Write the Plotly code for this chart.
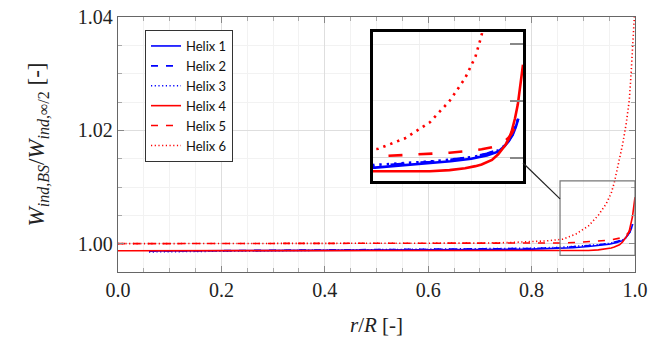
import plotly.graph_objects as go

# ---------------- data ----------------
r_blue = [0.06, 0.1, 0.2, 0.3, 0.4, 0.5, 0.6, 0.7, 0.8, 0.857, 0.88, 0.91, 0.93,
          0.95, 0.965, 0.976, 0.982, 0.986, 0.99, 0.993, 0.9955]
helix1 = [0.99870, 0.99871, 0.99874, 0.99877, 0.99880, 0.99884, 0.99889, 0.99895,
          0.99903, 0.99912, 0.99928, 0.99950, 0.99968, 0.99990, 1.00020, 1.00053,
          1.00100, 1.00142, 1.00200, 1.00270, 1.00345]
helix2 = [0.99868, 0.99870, 0.99874, 0.99878, 0.99883, 0.99889, 0.99896, 0.99904,
          0.99915, 0.99928, 0.99942, 0.99962, 0.99980, 1.00004, 1.00034, 1.00068,
          1.00110, 1.00152, 1.00212, 1.00280, 1.00350]
helix3 = [0.99855, 0.99858, 0.99866, 0.99876, 0.99884, 0.99892, 0.99900, 0.99908,
          0.99920, 0.99936, 0.99948, 0.99966, 0.99982, 1.00004, 1.00032, 1.00064,
          1.00105, 1.00148, 1.00208, 1.00275, 1.00348]

r_red = [0.0, 0.1, 0.2, 0.3, 0.4, 0.5, 0.6, 0.7, 0.76, 0.8, 0.83, 0.86, 0.886, 0.91,
         0.929, 0.944, 0.954, 0.96, 0.97, 0.976, 0.983, 0.986, 0.989, 0.9923, 0.995,
         0.9971, 0.9987, 1.0]
helix4 = [0.99876, 0.99876, 0.99876, 0.99876, 0.99877, 0.99877, 0.99877, 0.99877,
          0.99877, 0.99877, 0.99877, 0.99877, 0.99878, 0.99880, 0.99890, 0.99907,
          0.99925, 0.99940, 0.99980, 1.00030, 1.00112, 1.00160, 1.00230, 1.00347,
          1.00470, 1.00620, 1.00740, 1.00820]
helix5 = [1.00000, 1.00000, 1.00000, 1.00000, 1.00000, 1.00000, 1.00000, 1.00000,
          1.00000, 1.00001, 1.00003, 1.00012, 1.00022, 1.00032, 1.00043, 1.00056,
          1.00066, 1.00074, 1.00092, 1.00108, 1.00150, 1.00175, 1.00210, 1.00270,
          1.00340, None, None, None]
helix6 = [1.00000, 1.00000, 1.00000, 1.00001, 1.00001, 1.00002, 1.00004, 1.00010,
          1.00020, 1.00033, 1.00050, 1.00078, 1.00171, 1.00312, 1.00500, 1.00700,
          1.00890, 1.01080, 1.01500, 1.01750, 1.02120, 1.02320, 1.02535, 1.02980,
          1.03380, 1.03720, 1.03980, 1.04200]

names = ["Helix 1", "Helix 2", "Helix 3", "Helix 4", "Helix 5", "Helix 6"]
x_ticks = [0.0, 0.2, 0.4, 0.6, 0.8, 1.0]
y_ticks = [1.00, 1.02, 1.04]

# ranges
x_range = [0.0, 1.0]
y_range = [0.995, 1.04]
zoom_x = [0.855, 1.0]
zoom_y = [0.99794, 1.01108]

BLUE = "#0000ff"
RED = "#ff0000"
series = [
    (r_blue, helix1, BLUE, "solid", "solid"),
    (r_blue, helix2, BLUE, "7px,8px", "14px,16px"),
    (r_blue, helix3, BLUE, "1.2px,2.5px", "2.4px,5px"),
    (r_red, helix4, RED, "solid", "solid"),
    (r_red, helix5, RED, "7px,8px", "14px,16px"),
    (r_red, helix6, RED, "1.2px,2.5px", "2.4px,5px"),
]

fig = go.Figure()
for (xs, ys, col, dash, _), nm in zip(series, names):
    fig.add_trace(go.Scatter(x=xs, y=ys, mode="lines", name=nm,
                             line=dict(color=col, width=1.6, dash=dash),
                             xaxis="x", yaxis="y"))
for (xs, ys, col, dash, dash2), nm in zip(series, names):
    fig.add_trace(go.Scatter(x=xs, y=ys, mode="lines", name=nm, showlegend=False,
                             line=dict(color=col, width=2.6, dash=dash2),
                             xaxis="x2", yaxis="y2"))

SERIF = "Liberation Serif"
axis_common = dict(
    showline=True, linecolor="#666", linewidth=1.3, mirror="ticks",
    ticks="inside", ticklen=6, tickcolor="#888", tickwidth=1,
    showgrid=True, gridcolor="#dedede", gridwidth=1, zeroline=False,
    automargin=False,
    tickfont=dict(family=SERIF, size=20, color="#222"),
)

# inset domain (paper)
L, R, T, B = 118, 14, 17, 70
W, H = 649, 342
pw, ph = W - L - R, H - T - B
ins_x = [(373 - L) / pw, (523 - L) / pw]
ins_y = [(H - B - 181) / ph, (H - B - 32) / ph]

sub = '<sub><span style="font-size:16px"><i>{}</i></span></sub>'
ytitle = ("<i>W</i>" + sub.format("ind,BS") + "/<i>W</i>"
          + '<sub><span style="font-size:16px"><i>ind,</i>∞/2</span></sub> [-]')

fig.update_layout(
    width=W, height=H,
    margin=dict(l=L, r=R, t=T, b=B, autoexpand=False),
    paper_bgcolor="white", plot_bgcolor="white",
    showlegend=True,
    legend=dict(x=(145 - L) / pw, y=(H - B - 30) / ph, xanchor="left", yanchor="top",
                bgcolor="white", bordercolor="#333", borderwidth=1,
                font=dict(family="Lato", size=13, color="#111"),
                tracegroupgap=0),
    xaxis=dict(axis_common, range=x_range, tickvals=x_ticks, tickformat=".1f",
               minor=dict(dtick=0.05, ticks="inside", ticklen=3.5, tickcolor="#aaa",
                          showgrid=True, gridcolor="#f2f2f2"),
               title=dict(text="<i>r</i>/<i>R</i> [-]",
                          font=dict(family=SERIF, size=21, color="#222"), standoff=17)),
    yaxis=dict(axis_common, range=y_range, tickvals=y_ticks, tickformat=".2f",
               minor=dict(tick0=1.0, dtick=0.005, ticks="inside", ticklen=3.5,
                          tickcolor="#aaa", showgrid=True, gridcolor="#f2f2f2"),
               title=dict(text=ytitle,
                          font=dict(family=SERIF, size=23, color="#222"), standoff=26)),
    xaxis2=dict(domain=ins_x, anchor="y2", range=zoom_x, showticklabels=False,
                showline=True, mirror=True, linecolor="black", linewidth=2.5,
                ticks="", tick0=0, dtick=0.2, zeroline=False, automargin=False,
                showgrid=True, gridcolor="#dedede",
                minor=dict(dtick=0.05, showgrid=True, gridcolor="#f0f0f0")),
    yaxis2=dict(domain=ins_y, anchor="x2", range=zoom_y, showticklabels=False,
                side="right", showline=True, mirror=True, linecolor="black",
                linewidth=2.5, ticks="inside", ticklen=13, tickcolor="#888",
                tickwidth=1.5, tick0=1.0, dtick=0.02, zeroline=False, automargin=False,
                showgrid=True, gridcolor="#d8d8d8",
                minor=dict(tick0=1.0, dtick=0.005, ticks="inside", ticklen=13,
                           tickcolor="#888", showgrid=True, gridcolor="#eeeeee")),
)

# spy box on the main axes
fig.add_shape(type="rect", xref="x", yref="y", x0=zoom_x[0], x1=zoom_x[1],
              y0=zoom_y[0], y1=zoom_y[1], line=dict(color="#777", width=1.2),
              layer="above")
# connector line (paper coordinates)
conn_y_inset = (H - B - 163) / ph
conn_y_box = (1.0079 - y_range[0]) / (y_range[1] - y_range[0])
fig.add_shape(type="line", xref="paper", yref="paper",
              x0=ins_x[1], y0=conn_y_inset, x1=zoom_x[0], y1=conn_y_box,
              line=dict(color="#222", width=1.2))

fig.write_html("out.html",
               config={"displayModeBar": False},
               post_script="document.body.style.margin='0';"
                           "document.body.style.overflow='hidden';")
